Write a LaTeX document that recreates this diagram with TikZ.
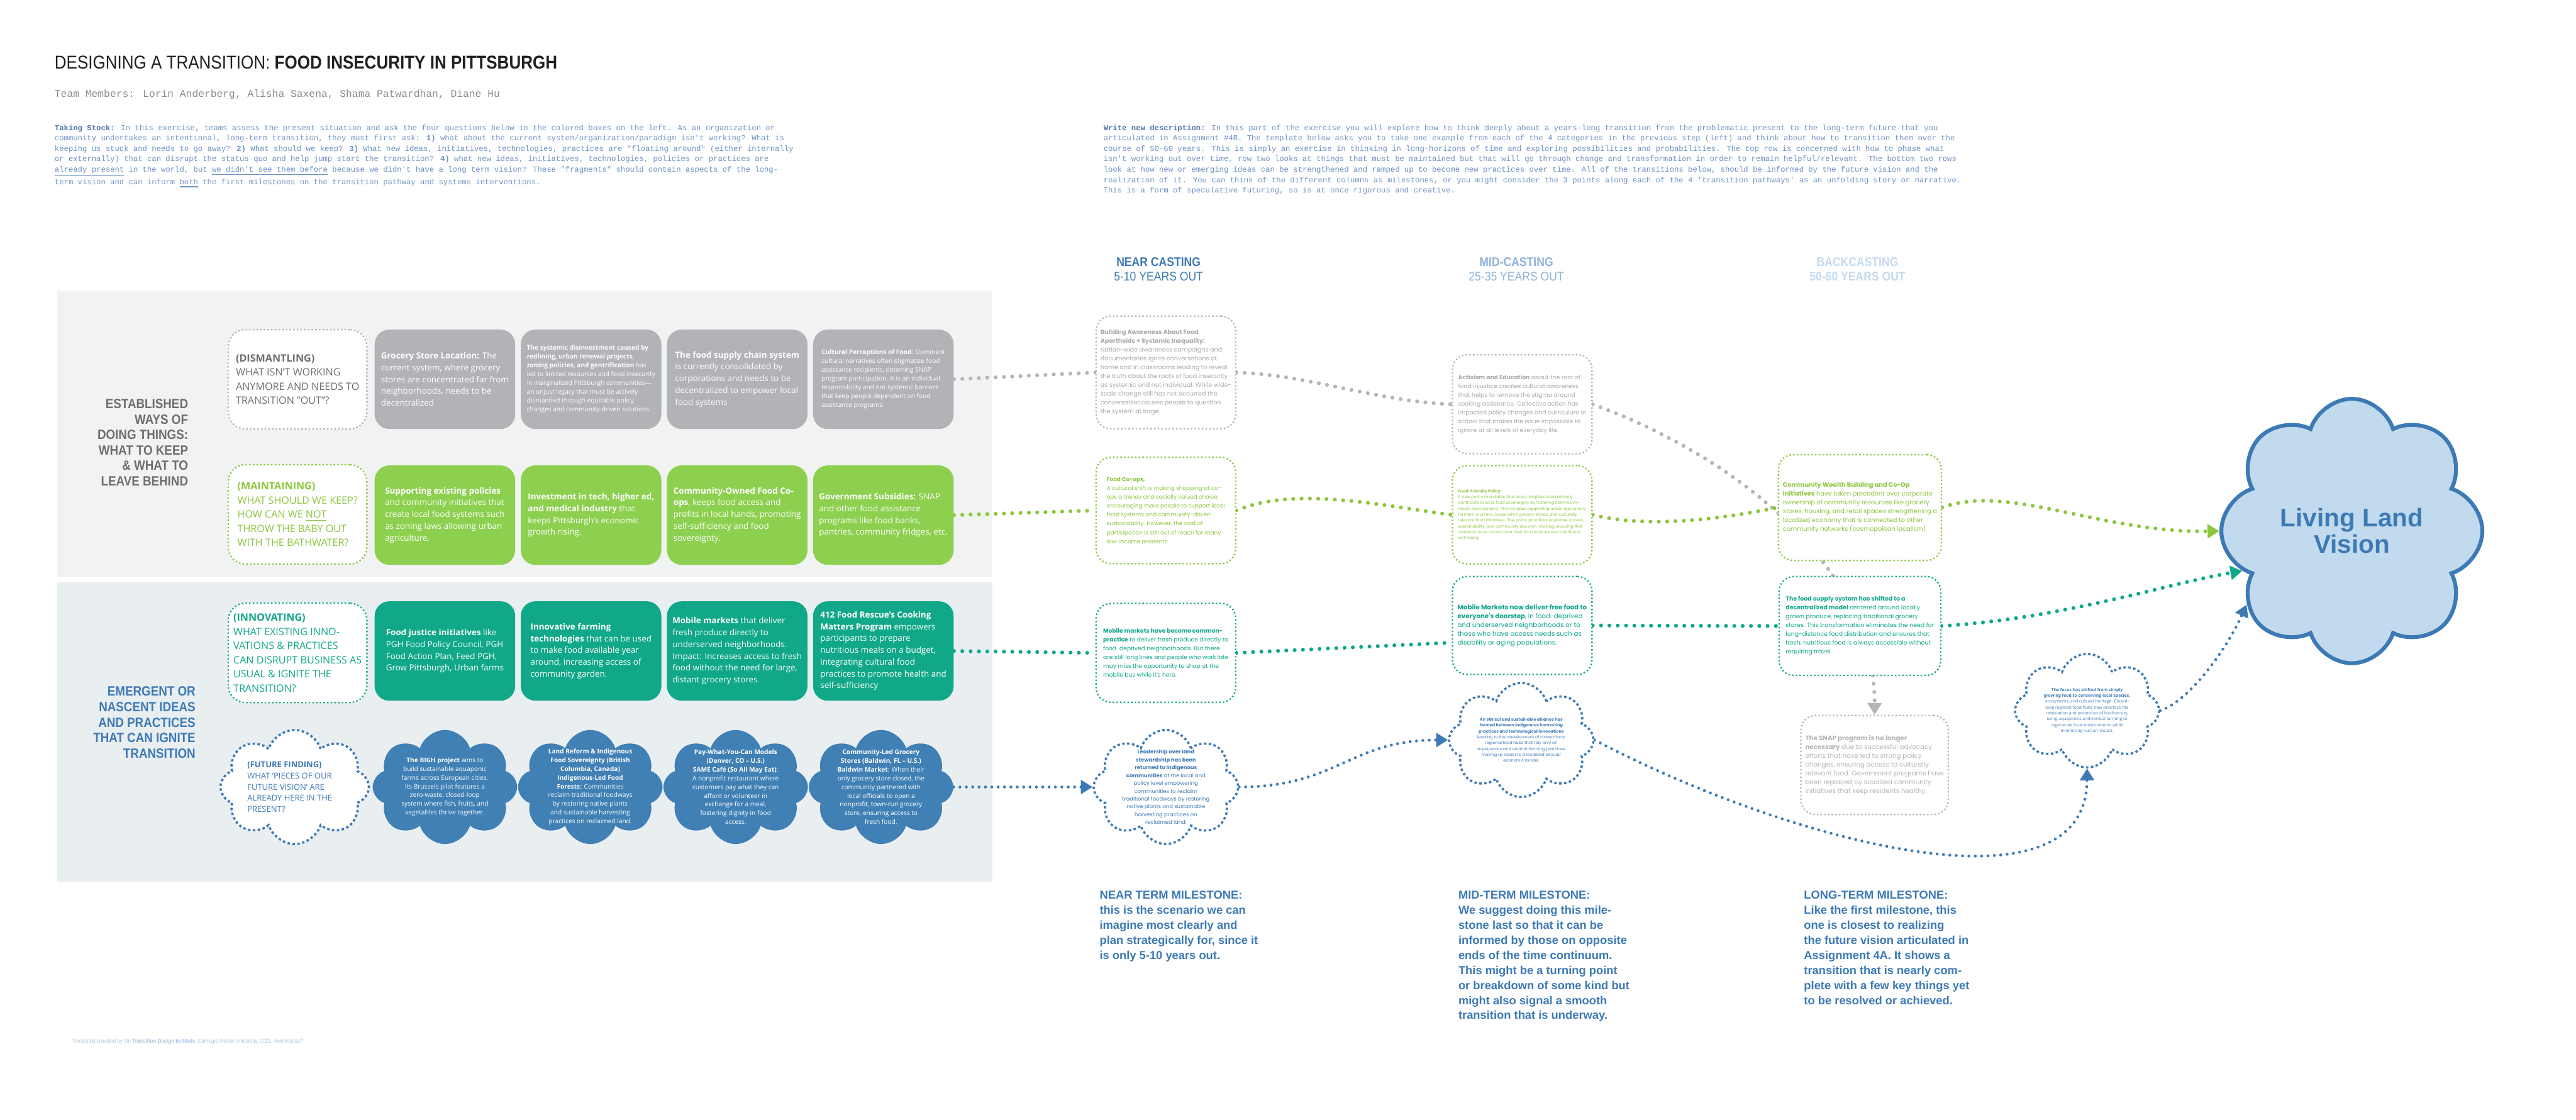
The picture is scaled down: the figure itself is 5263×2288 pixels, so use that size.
\documentclass[tikz,border=0pt]{standalone}
\usepackage{fontspec}
\setmainfont{Open Sans}
\newfontfamily\monofont{Liberation Mono}
\newfontfamily\arialfont{Liberation Sans}
\newfontfamily\narrowfont[FakeStretch=0.88]{Liberation Sans}
\newfontfamily\boxfont{Poppins}
\usepackage{xcolor}
\usepackage{tikz}
\usetikzlibrary{shapes, arrows.meta, positioning}

\definecolor{ink}{HTML}{231F20}
\definecolor{teamgray}{HTML}{8A8C8F}
\definecolor{stockblue}{HTML}{6F93C3}
\definecolor{stockdark}{HTML}{4E76AB}
\definecolor{labelgray}{HTML}{6D6E71}
\definecolor{panelgray}{HTML}{F1F2F2}
\definecolor{panelblue}{HTML}{E9EEF1}
\definecolor{cardgray}{HTML}{B1B3B6}
\definecolor{cardgreen}{HTML}{8DD04F}
\definecolor{cardteal}{HTML}{10A888}
\definecolor{cardblue}{HTML}{4080B5}
\definecolor{keepgreen}{HTML}{8CC63F}
\definecolor{textblue}{HTML}{3D7AB5}
\definecolor{softgray}{HTML}{B3B5B8}
\definecolor{mutegray}{HTML}{A7A9AC}
\definecolor{midhead}{HTML}{8FB2D9}
\definecolor{backhead}{HTML}{C3DAEF}
\definecolor{visionfill}{HTML}{C2DAEE}
\definecolor{creditblue}{HTML}{A8C5E3}

\newcommand{\setfs}[2]{\fontsize{#1}{#2}\selectfont}

\pgfdeclarelayer{panel}
\pgfdeclarelayer{wire}
\pgfsetlayers{panel,wire,main}

\begin{document}
\begin{tikzpicture}[x=0.01cm, y=-0.01cm, node distance=0.73cm,
    card/.style={rectangle, rounded corners=0.3cm, minimum width=2.87cm, minimum height=2.03cm, inner sep=0.09cm, align=left, text=white, font=\setfs{4.9}{6.83}},
    small/.style={font=\setfs{3.7}{5.12}},
    qbox/.style={rectangle, rounded corners=0.35cm, draw, fill=white, line width=0.03cm, dash pattern=on 0.03cm off 0.045cm, minimum width=2.83cm, minimum height=2.03cm, inner sep=0.09cm, align=left, font=\setfs{5.9}{8.2}},
    tbox/.style={rectangle, rounded corners=0.3cm, draw, fill=white, line width=0.03cm, dash pattern=on 0.03cm off 0.045cm, minimum width=2.85cm, inner sep=0.09cm, align=left},
    puff/.style={cloud, cloud puffs=8, cloud puff arc=145, cloud ignores aspect, minimum width=2.95cm, minimum height=2.33cm, inner sep=0},
    bluepuff/.style={puff, fill=cardblue},
    dotpuff/.style={puff, draw=textblue, fill=white, line width=0.045cm, dash pattern=on 0.05cm off 0.05cm},
    puffnote/.style={align=center, inner sep=0, font=\setfs{3.7}{5.07}},
    trail/.style={line width=0.08cm, line cap=round, dash pattern=on 0pt off 0.17cm},
    bluetrail/.style={draw=textblue, line width=0.06cm, line cap=round, dash pattern=on 0pt off 0.13cm},
    tip/.style={-{Triangle[length=0.24cm, width=0.28cm]}},
    heading/.style={align=right, anchor=east, inner sep=0, font=\narrowfont\bfseries\setfs{7.8}{9}},
    casthead/.style={align=center, inner sep=0, font=\narrowfont\setfs{7.3}{8.25}},
    milestone/.style={align=left, inner sep=0, anchor=north west, text=textblue, font=\arialfont\bfseries\setfs{6.7}{8.73}}]

\useasboundingbox (0,0) rectangle (5263,2288);
\begin{pgfonlayer}{panel}
  \fill[white] (0,0) rectangle (5263,2288);
  \fill[panelgray] (117,594) rectangle (2027,1178);
  \fill[panelblue] (117,1190) rectangle (2027,1802);
\end{pgfonlayer}

\node (title) [anchor=base west, inner sep=0, text=ink, font=\narrowfont\setfs{10.8}{12}] at (111,141) {DESIGNING A TRANSITION: \textbf{FOOD INSECURITY IN PITTSBURGH}};
\node (team) [anchor=west, inner sep=0, text=teamgray, font=\monofont\setfs{5.96}{7}] at (111,193) {Team Members: Lorin Anderberg, Alisha Saxena, Shama Patwardhan, Diane Hu};
\node (stock) [anchor=north west, align=left, inner sep=0, text=stockblue, font=\monofont\setfs{4.48}{6.06}] at (111,254) {%
\textcolor{stockdark}{\textbf{Taking Stock:}} In this exercise, teams assess the present situation and ask the four questions below in the colored boxes on the left. As an organization or\\
community undertakes an intentional, long-term transition, they must first ask: \textbf{1)} what about the current system/organization/paradigm isn't working? What is\\
keeping us stuck and needs to go away? \textbf{2)} What should we keep? \textbf{3)} What new ideas, initiatives, technologies, practices are "floating around" (either internally\\
or externally) that can disrupt the status quo and help jump start the transition? \textbf{4)} what new ideas, initiatives, technologies, policies or practices are\\
\underline{already present} in the world, but \underline{we didn't see them before} because we didn't have a long term vision? These "fragments" should contain aspects of the long-\\
term vision and can inform \underline{both} the first milestones on the transition pathway and systems interventions.};
\node (brief) [anchor=north west, align=left, inner sep=0, text=stockblue, font=\monofont\setfs{4.48}{6.06}] at (2254,254) {%
\textcolor{stockdark}{\textbf{Write new description:}} In this part of the exercise you will explore how to think deeply about a years-long transition from the problematic present to the long-term future that you\\
articulated in Assignment \#4B. The template below asks you to take one example from each of the 4 categories in the previous step (left) and think about how to transition them over the\\
course of 50-60 years. This is simply an exercise in thinking in long-horizons of time and exploring possibilities and probabilities. The top row is concerned with how to phase what\\
isn't working out over time, row two looks at things that must be maintained but that will go through change and transformation in order to remain helpful/relevant. The bottom two rows\\
look at how new or emerging ideas can be strengthened and ramped up to become new practices over time. All of the transitions below, should be informed by the future vision and the\\
realization of it. You can think of the different columns as milestones, or you might consider the 3 points along each of the 4 'transition pathways' as an unfolding story or narrative.\\
This is a form of speculative futuring, so is at once rigorous and creative.};

\node (established) [heading, text=labelgray] at (385,904) {ESTABLISHED\\WAYS OF\\DOING THINGS:\\WHAT TO KEEP\\\& WHAT TO\\LEAVE BEHIND};
\node (emergent) [heading, text=textblue] at (400,1476) {EMERGENT OR\\NASCENT IDEAS\\AND PRACTICES\\THAT CAN IGNITE\\TRANSITION};

\node (dismantle) [qbox, draw=softgray, text=labelgray] at (608,775) {\textbf{(DISMANTLING)}\\WHAT ISN'T WORKING\\ANYMORE AND NEEDS TO\\TRANSITION "OUT"?};
\node (maintain) [qbox, draw=keepgreen, text=keepgreen] at (608,1051) {\textbf{(MAINTAINING)}\\WHAT SHOULD WE KEEP?\\HOW CAN WE \underline{NOT}\\THROW THE BABY OUT\\WITH THE BATHWATER?};
\node (innovate) [qbox, draw=cardteal, text=cardteal] at (608,1334) {\textbf{(INNOVATING)}\\WHAT EXISTING INNO-\\VATIONS \& PRACTICES\\CAN DISRUPT BUSINESS AS\\USUAL \& IGNITE THE\\TRANSITION?};
\node (future) [dotpuff, minimum width=3.03cm] at (602,1608) {};
\node (futuretext) [align=left, inner sep=0, text=textblue, font=\setfs{4.75}{6.5}] at (592,1608) {\textbf{(FUTURE FINDING)}\\WHAT 'PIECES OF OUR\\FUTURE VISION' ARE\\ALREADY HERE IN THE\\PRESENT?};

\node (gray1) [card, fill=cardgray] at (909,775) {\textbf{Grocery Store Location:} The\\current system, where grocery\\stores are concentrated far from\\neighborhoods, needs to be\\decentralized};
\node (gray2) [card, small, fill=cardgray, right=0.1cm of gray1] {\textbf{The systemic disinvestment caused by}\\\textbf{redlining, urban renewal projects,}\\\textbf{zoning policies, and gentrification} has\\led to limited resources and food insecurity\\in marginalized Pittsburgh communities---\\an unjust legacy that must be actively\\dismantled through equitable policy\\changes and community-driven solutions.};
\node (gray3) [card, fill=cardgray, right=0.1cm of gray2] {\textbf{The food supply chain system}\\is currently consolidated by\\corporations and needs to be\\decentralized to empower local\\food systems};
\node (gray4) [card, small, fill=cardgray, right=0.1cm of gray3] {\textbf{Cultural Perceptions of Food}: Dominant\\cultural narratives often stigmatize food\\assistance recipients, deterring SNAP\\program participation. It is an individual\\responsibility and not systemic barriers\\that keep people dependent on food\\assistance programs.};

\node (green1) [card, fill=cardgreen, below=of gray1] {\textbf{Supporting existing policies}\\and community initiatives that\\create local food systems such\\as zoning laws allowing urban\\agriculture.};
\node (green2) [card, fill=cardgreen, right=0.1cm of green1] {\textbf{Investment in tech, higher ed,}\\\textbf{and medical industry} that\\keeps Pittsburgh's economic\\growth rising.};
\node (green3) [card, fill=cardgreen, right=0.1cm of green2] {\textbf{Community-Owned Food Co-}\\\textbf{ops}, keeps food access and\\profits in local hands, promoting\\self-sufficiency and food\\sovereignty.};
\node (green4) [card, fill=cardgreen, right=0.1cm of green3] {\textbf{Government Subsidies:} SNAP\\and other food assistance\\programs like food banks,\\pantries, community fridges, etc.};

\node (teal1) [card, fill=cardteal, below=of green1] {\textbf{Food justice initiatives} like\\PGH Food Policy Council, PGH\\Food Action Plan, Feed PGH,\\Grow Pittsburgh, Urban farms};
\node (teal2) [card, fill=cardteal, right=0.1cm of teal1] {\textbf{Innovative farming}\\\textbf{technologies} that can be used\\to make food available year\\around, increasing access of\\community garden.};
\node (teal3) [card, fill=cardteal, right=0.1cm of teal2] {\textbf{Mobile markets} that deliver\\fresh produce directly to\\underserved neighborhoods.\\Impact: Increases access to fresh\\food without the need for large,\\distant grocery stores.};
\node (teal4) [card, fill=cardteal, right=0.1cm of teal3] {\textbf{412 Food Rescue's Cooking}\\\textbf{Matters Program} empowers\\participants to prepare\\nutritious meals on a budget,\\integrating cultural food\\practices to promote health and\\self-sufficiency};

\node (blue1) [bluepuff] at (909,1608) {};
\node (blue2) [bluepuff] at (1206,1608) {};
\node (blue3) [bluepuff] at (1503,1608) {};
\node (blue4) [bluepuff] at (1800,1608) {};
\node (bigh) [puffnote, text=white] at (blue1) {\textbf{The BIGH project} aims to\\build sustainable aquaponic\\farms across European cities.\\Its Brussels pilot features a\\zero-waste, closed-loop\\system where fish, fruits, and\\vegetables thrive together.};
\node (landreform) [puffnote, text=white] at (blue2) {\textbf{Land Reform \& Indigenous}\\\textbf{Food Sovereignty (British}\\\textbf{Columbia, Canada)}\\\textbf{Indigenous-Led Food}\\\textbf{Forests:} Communities\\reclaim traditional foodways\\by restoring native plants\\and sustainable harvesting\\practices on reclaimed land.};
\node (paywhat) [puffnote, text=white] at (blue3) {\textbf{Pay-What-You-Can Models}\\\textbf{(Denver, CO -- U.S.)}\\\textbf{SAME Café (So All May Eat)}:\\A nonprofit restaurant where\\customers pay what they can\\afford or volunteer in\\exchange for a meal,\\fostering dignity in food\\access.};
\node (baldwin) [puffnote, text=white] at (blue4) {\textbf{Community-Led Grocery}\\\textbf{Stores (Baldwin, FL -- U.S.)}\\\textbf{Baldwin Market}: When their\\only grocery store closed, the\\community partnered with\\local officials to open a\\nonprofit, town-run grocery\\store, ensuring access to\\fresh food.};

\node (nearhead) [casthead, text=textblue] at (2367,550) {\textbf{NEAR CASTING}\\5-10 YEARS OUT};
\node (midheading) [casthead, text=midhead] at (3098,550) {\textbf{MID-CASTING}\\25-35 YEARS OUT};
\node (backheading) [casthead, text=backhead] at (3795,550) {\textbf{BACKCASTING}\\\textbf{50-60 YEARS OUT}};

\node (neargray) [tbox, draw=softgray, text=mutegray, minimum height=2.3cm, font=\boxfont\setfs{3.5}{5.12}] at (2382,761) {\textbf{Building Awareness About Food}\\\textbf{Apartheids + Systemic Inequality:}\\Nation-wide awareness campaigns and\\documentaries ignite conversations at\\home and in classrooms leading to reveal\\the truth about the roots of food insecurity\\as systemic and not individual. While wide-\\scale change still has not occurred the\\conversation causes people to question\\the system at large.};
\node (neargreen) [tbox, draw=keepgreen, text=keepgreen, minimum height=2.17cm, font=\boxfont\setfs{3.24}{5.12}] at (2382,1043) {\textbf{Food Co-ops,}\\A cultural shift is making shopping at co-\\ops a trendy and socially valued choice,\\encouraging more people to support local\\food systems and community-driven\\sustainability. However, the cost of\\participation is still out of reach for many\\low-income residents.};
\node (nearteal) [tbox, draw=cardteal, text=cardteal, minimum height=2.02cm, font=\boxfont\setfs{3.35}{5.12}] at (2382,1334) {\textbf{Mobile markets have become common-}\\\textbf{practice} to deliver fresh produce directly to\\food-deprived neighborhoods. But there\\are still long lines and people who work late\\may miss the opportunity to shop at the\\mobile bus while it's here.};
\node (nearcloud) [dotpuff] at (2382,1608) {};
\node (stewardship) [puffnote, text=textblue, font=\boxfont\setfs{3.07}{4.55}] at (nearcloud) {\textbf{Leadership over land}\\\textbf{stewardship has been}\\\textbf{returned to Indigenous}\\\textbf{communities} at the local and\\policy level empowering\\communities to reclaim\\traditional foodways by restoring\\native plants and sustainable\\harvesting practices on\\reclaimed land.};

\node (midgray) [tbox, draw=softgray, text=mutegray, minimum height=2.02cm, font=\boxfont\setfs{3.4}{5.12}] at (3110,826) {\textbf{Activism and Education} about the root of\\food injustice creates cultural awareness\\that helps to remove the stigma around\\seeking assistance. Collective action has\\impacted policy changes and curriculum in\\school that makes the issue impossible to\\ignore at all levels of everyday life.};
\node (midgreen) [tbox, draw=keepgreen, text=keepgreen, minimum height=2.01cm, font=\boxfont\setfs{2.33}{3.41}] at (3110,1052) {\textbf{Food-Friendly Policy:}\\A new policy mandates that every neighborhood actively\\contribute to local food sovereignty by fostering community-\\driven food systems. This includes supporting urban agriculture,\\farmers' markets, cooperative grocery stores, and culturally\\relevant food initiatives. The policy prioritizes equitable access,\\sustainability, and community decision-making, ensuring that\\residents have control over their food sources and nutritional\\well-being};
\node (midteal) [tbox, draw=cardteal, text=cardteal, minimum height=2.0cm, font=\boxfont\setfs{3.75}{5.12}] at (3110,1278) {\textbf{Mobile Markets now deliver free food to}\\\textbf{everyone's doorstep}, in food-deprived\\and underserved neighborhoods or to\\those who have access needs such as\\disability or aging populations.};
\node (midcloud) [dotpuff] at (3108,1512) {};
\node (alliance) [puffnote, text=textblue, font=\boxfont\setfs{2.38}{3.41}] at (midcloud) {\textbf{An ethical and sustainable alliance has}\\\textbf{formed between Indigenous harvesting}\\\textbf{practices and technological innovations}\\leading to the development of closed-loop\\regional food hubs that rely only on\\aquaponics and vertical farming practices\\moving us closer to a localized circular\\economic model.};

\node (backgreen) [tbox, draw=keepgreen, text=keepgreen, minimum width=3.3cm, minimum height=2.16cm, font=\boxfont\setfs{3.6}{5.12}] at (3800,1037) {\textbf{Community Wealth Building and Co-Op}\\\textbf{Initiatives} have taken precedent over corporate\\ownership of community resources like grocery\\stores, housing, and retail spaces strengthening a\\localized economy that is connected to other\\community networks (cosmopolitan localism)};
\node (backteal) [tbox, draw=cardteal, text=cardteal, minimum width=3.3cm, minimum height=2.02cm, font=\boxfont\setfs{3.43}{5.12}] at (3800,1279) {\textbf{The food supply system has shifted to a}\\\textbf{decentralized model} centered around locally\\grown produce, replacing traditional grocery\\stores. This transformation eliminates the need for\\long-distance food distribution and ensures that\\fresh, nutritious food is always accessible without\\requiring travel.};
\node (snap) [tbox, draw=softgray, text=softgray, minimum height=2.02cm, font=\boxfont\setfs{3.75}{5.12}] at (3830,1563) {\textbf{The SNAP program is no longer}\\\textbf{necessary} due to successful advocacy\\efforts that have led to strong policy\\changes, ensuring access to culturally\\relevant food. Government programs have\\been replaced by localized community\\initiatives that keep residents healthy.};
\node (backcloud) [dotpuff, minimum width=2.94cm, minimum height=2.32cm] at (4264,1452) {};
\node (biodiversity) [puffnote, text=textblue, font=\setfs{2.47}{3.41}] at (backcloud) {\textbf{The focus has shifted from simply}\\\textbf{growing food to conserving local species,}\\ecosystems, and cultural heritage. Closed-\\loop regional food hubs now prioritize the\\restoration and protection of biodiversity,\\using aquaponics and vertical farming to\\regenerate local environments while\\minimizing human impact.};

\node (vision) [cloud, cloud puffs=8, cloud puff arc=145, cloud ignores aspect, minimum width=5.33cm, minimum height=5.4cm, fill=visionfill, draw=textblue, line width=0.08cm, align=center, text=textblue, font=\arialfont\bfseries\setfs{14.8}{15.4}] at (4805,1085) {Living Land\\Vision};

\node (nearterm) [milestone] at (2246,1820) {NEAR TERM MILESTONE:\\this is the scenario we can\\imagine most clearly and\\plan strategically for, since it\\is only 5-10 years out.};
\node (midterm) [milestone] at (2979,1820) {MID-TERM MILESTONE:\\We suggest doing this mile-\\stone last so that it can be\\informed by those on opposite\\ends of the time continuum.\\This might be a turning point\\or breakdown of some kind but\\might also signal a smooth\\transition that is underway.};
\node (longterm) [milestone] at (3685,1820) {LONG-TERM MILESTONE:\\Like the first milestone, this\\one is closest to realizing\\the future vision articulated in\\Assignment 4A. It shows a\\transition that is nearly com-\\plete with a few key things yet\\to be resolved or achieved.};

\node (credit) [anchor=west, inner sep=0, text=creditblue, font=\narrowfont\setfs{3.3}{4}] at (147,2128) {Templated provided by the \textbf{Transition Design Institute}, Carnegie Mellon University, 2021. Irwin/Kossoff};

\begin{pgfonlayer}{wire}
  \draw[trail, softgray] (gray4.east) -- (neargray.west);
  \draw[trail, softgray] (neargray.east) .. controls +(150,5) and +(-150,-5) .. (midgray.west);
  \draw[trail, softgray, tip] (midgray.east) .. controls +(300,110) and +(0,-300) .. (snap.north);
  \draw[trail, keepgreen] (green4.east) -- (neargreen.west);
  \draw[trail, keepgreen] (neargreen.east) .. controls +(120,-50) and +(-150,-20) .. (midgreen.west);
  \draw[trail, keepgreen] (midgreen.east) .. controls +(120,30) and +(-100,20) .. (backgreen.west);
  \draw[trail, keepgreen, tip] (backgreen.east) .. controls +(135,-50) and +(-240,5) .. (vision.west);
  \draw[trail, cardteal] (teal4.east) -- (nearteal.west);
  \draw[trail, cardteal] (nearteal.east) -- ([yshift=-0.35cm]midteal.west);
  \draw[trail, cardteal] (midteal.east) -- (backteal.west);
  \draw[trail, cardteal, tip] (backteal.east) .. controls +(250,-15) and +(-150,25) .. (vision.200);
  \draw[bluetrail, tip] (blue4.east) -- (nearcloud.west);
  \draw[bluetrail, tip] (nearcloud.east) .. controls +(200,0) and +(-200,0) .. (midcloud.west);
  \draw[bluetrail, tip] (midcloud.east) .. controls +(394,207) and +(0,312) .. (backcloud.south);
  \draw[bluetrail, tip] (backcloud.east) .. controls +(60,-20) and +(-40,90) .. (vision.215);
\end{pgfonlayer}
\end{tikzpicture}
\end{document}
